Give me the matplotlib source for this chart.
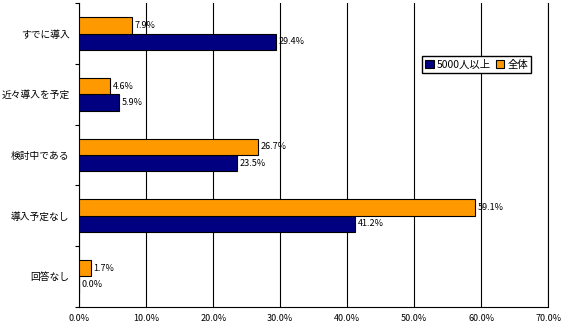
import numpy as np
import matplotlib
matplotlib.use("Agg")
import matplotlib.pyplot as plt
from matplotlib.ticker import FuncFormatter

plt.rcParams['font.family'] = ['Noto Sans CJK JP', 'DejaVu Sans']
plt.rcParams['font.size'] = 6.5

categories = ["すでに導入", "近々導入を予定", "検討中である", "導入予定なし", "回答なし"]
large = [29.4, 5.9, 23.5, 41.2, 0.0]   # 5000人以上
total = [7.9, 4.6, 26.7, 59.1, 1.7]    # 全体
series_names = ["5000人以上", "全体"]

fig = plt.figure(figsize=(5.62, 3.27), dpi=100)
ax = fig.add_axes([0.1411, 0.0621, 0.8345, 0.928])

y = np.arange(len(categories))
h = 0.27
b1 = ax.barh(y + h / 2, large, height=h, color="#000080", edgecolor="black", linewidth=0.8,
             label=series_names[0], zorder=3)
b2 = ax.barh(y - h / 2, total, height=h, color="#FF9900", edgecolor="black", linewidth=0.8,
             label=series_names[1], zorder=3)

for bars, vals in ((b1, large), (b2, total)):
    for bar, v in zip(bars, vals):
        ax.text(v + 0.4, bar.get_y() + bar.get_height() / 2, f"{v:.1f}%",
                va="center", ha="left", fontsize=6.5, zorder=4)

ax.set_xlim(0, 70)
ax.set_ylim(len(categories) - 0.5, -0.5)
ax.set_xticks(np.arange(0, 71, 10))
ax.xaxis.set_major_formatter(FuncFormatter(lambda v, p: f"{v:.1f}%"))
ax.set_yticks(y)
ax.set_yticklabels(categories, fontsize=7)
ax.set_yticks(np.arange(-0.5, len(categories), 1), minor=True)
ax.tick_params(axis="y", which="major", length=0, pad=7)
ax.tick_params(axis="y", which="minor", length=3, width=0.8, direction="out")
ax.tick_params(axis="x", length=0, pad=5, labelsize=6.5)
ax.xaxis.grid(True, color="black", linewidth=0.8, zorder=0)
ax.spines["top"].set_visible(False)
for s in ("left", "bottom", "right"):
    ax.spines[s].set_linewidth(0.8)

handles, labels = ax.get_legend_handles_labels()
ax.legend(handles, labels, loc="upper left", bbox_to_anchor=(0.72, 0.842), ncol=2,
          frameon=True, fancybox=False, edgecolor="black", framealpha=1,
          handlelength=0.8, handleheight=0.8, handletextpad=0.3, columnspacing=0.5,
          borderpad=0.3, fontsize=7.5)

fig.savefig("out.png", dpi=100)
